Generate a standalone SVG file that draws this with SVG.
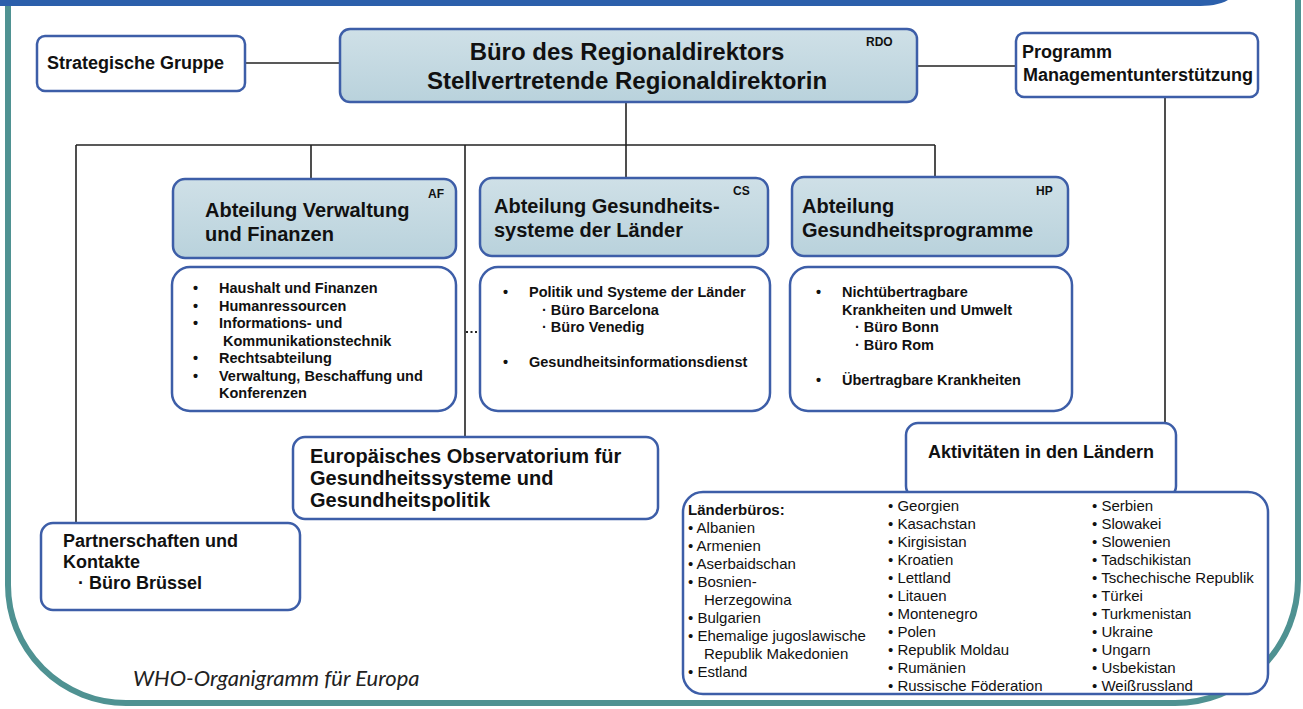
<svg xmlns="http://www.w3.org/2000/svg" width="1303" height="709" viewBox="0 0 1303 709">
<defs>
<linearGradient id="hdr" x1="0" y1="0" x2="0" y2="1">
<stop offset="0" stop-color="#cfe0e7"/>
<stop offset="1" stop-color="#b9d2dc"/>
</linearGradient>
<style>
.box{fill:#fff;stroke:#3d5ea8;stroke-width:2.5}
.hdr{fill:url(#hdr);stroke:#3d5ea8;stroke-width:2.5}
.b{font-family:"Liberation Sans",Arial,sans-serif;font-weight:bold;fill:#111}
.r{font-family:"Liberation Sans",Arial,sans-serif;fill:#111}
.t18{font-size:18px}
.t20{font-size:20px}
.t14{font-size:14.5px}
.t12{font-size:12px}
.t15{font-size:15px}
.ln{stroke:#222;stroke-width:1.6;fill:none}
</style>
</defs>
<rect x="0" y="0" width="1303" height="709" fill="#fff"/>
<g id="frame">
<path d="M0,0 H1228 C1220,5 1208,6 1196,6 H0 Z" fill="#2b5fab"/>
<path d="M8,6 V585 A118,118 0 0 0 126,703 H1175 A123,123 0 0 0 1298,580 V0" fill="none" stroke="#4f9292" stroke-width="6"/>
</g>
<g id="connectors">
<line class="ln" x1="245" y1="63" x2="340" y2="63"/>
<line class="ln" x1="917" y1="66" x2="1016" y2="66"/>
<line class="ln" x1="626" y1="102" x2="626" y2="178"/>
<line class="ln" x1="76" y1="145" x2="935" y2="145"/>
<line class="ln" x1="311" y1="145" x2="311" y2="179"/>
<line class="ln" x1="465" y1="145" x2="465" y2="437"/>
<line class="ln" x1="935" y1="145" x2="935" y2="177"/>
<line class="ln" x1="76" y1="145" x2="76" y2="523"/>
<line class="ln" x1="1165" y1="97" x2="1165" y2="423"/>
<line x1="466" y1="332" x2="480" y2="332" stroke="#222" stroke-width="2" stroke-dasharray="2,2.5"/>
</g>
<g id="strategische">
<rect class="box" x="37" y="36" width="208" height="55" rx="8"/>
<text class="b t18" x="47" y="69">Strategische Gruppe</text>
</g>
<g id="rdo">
<rect class="hdr" x="340" y="29" width="577" height="73" rx="10"/>
<text class="b" font-size="24" x="627" y="60" text-anchor="middle">Büro des Regionaldirektors</text>
<text class="b" font-size="24" x="627" y="89" text-anchor="middle">Stellvertretende Regionaldirektorin</text>
<text class="b t12" x="866" y="46">RDO</text>
</g>
<g id="programm">
<rect class="box" x="1016" y="33" width="242" height="64" rx="8"/>
<text class="b t18" x="1022" y="58">Programm</text>
<text class="b t18" x="1023" y="81">Managementunterstützung</text>
</g>
<g id="af">
<rect class="hdr" x="173" y="179" width="283" height="79" rx="12"/>
<text class="b t20" x="205" y="217">Abteilung Verwaltung</text>
<text class="b t20" x="205" y="241">und Finanzen</text>
<text class="b t12" x="428" y="198">AF</text>
</g>
<g id="af-list">
<rect class="box" x="172" y="267" width="284" height="144" rx="18"/>
<text class="b t14">
<tspan x="193" y="293">•</tspan><tspan x="219" y="293">Haushalt und Finanzen</tspan>
<tspan x="193" y="310.5">•</tspan><tspan x="219" y="310.5">Humanressourcen</tspan>
<tspan x="193" y="328">•</tspan><tspan x="219" y="328">Informations- und</tspan>
<tspan x="223" y="345.5">Kommunikationstechnik</tspan>
<tspan x="193" y="363">•</tspan><tspan x="219" y="363">Rechtsabteilung</tspan>
<tspan x="193" y="380.5">•</tspan><tspan x="219" y="380.5">Verwaltung, Beschaffung und</tspan>
<tspan x="219" y="398">Konferenzen</tspan>
</text>
</g>
<g id="cs">
<rect class="hdr" x="480" y="178" width="288" height="78" rx="12"/>
<text class="b t20" x="494" y="213">Abteilung Gesundheits-</text>
<text class="b t20" x="494" y="237">systeme der Länder</text>
<text class="b t12" x="733" y="195">CS</text>
</g>
<g id="cs-list">
<rect class="box" x="480" y="267" width="290" height="144" rx="18"/>
<text class="b t14">
<tspan x="503" y="297">•</tspan><tspan x="529" y="297">Politik und Systeme der Länder</tspan>
<tspan x="542" y="314.5">· Büro Barcelona</tspan>
<tspan x="542" y="332">· Büro Venedig</tspan>
<tspan x="503" y="367">•</tspan><tspan x="529" y="367">Gesundheitsinformationsdienst</tspan>
</text>
</g>
<g id="hp">
<rect class="hdr" x="792" y="177" width="276" height="79" rx="12"/>
<text class="b t20" x="802" y="213">Abteilung</text>
<text class="b t20" x="802" y="237">Gesundheitsprogramme</text>
<text class="b t12" x="1036" y="195">HP</text>
</g>
<g id="hp-list">
<rect class="box" x="790" y="267" width="282" height="144" rx="18"/>
<text class="b t14">
<tspan x="816" y="297">•</tspan><tspan x="842" y="297">Nichtübertragbare</tspan>
<tspan x="842" y="315">Krankheiten und Umwelt</tspan>
<tspan x="855" y="332">· Büro Bonn</tspan>
<tspan x="855" y="350">· Büro Rom</tspan>
<tspan x="816" y="385">•</tspan><tspan x="842" y="385">Übertragbare Krankheiten</tspan>
</text>
</g>
<g id="observatorium">
<rect class="box" x="293" y="437" width="365" height="82" rx="12"/>
<text class="b t20" x="310" y="463">Europäisches Observatorium für</text>
<text class="b t20" x="310" y="485">Gesundheitssysteme und</text>
<text class="b t20" x="310" y="507">Gesundheitspolitik</text>
</g>
<g id="partnerschaften">
<rect class="box" x="41" y="523" width="259" height="87" rx="12"/>
<text class="b t18" x="63" y="547">Partnerschaften und</text>
<text class="b t18" x="63" y="568">Kontakte</text>
<text class="b t18" x="78" y="589">· Büro Brüssel</text>
</g>
<g id="aktivitaeten">
<rect class="box" x="906" y="423" width="270" height="75" rx="12"/>
<text class="b t18" x="1041" y="458" text-anchor="middle">Aktivitäten in den Ländern</text>
</g>
<g id="laenderbueros">
<rect class="box" x="683" y="492" width="585" height="202" rx="20"/>
<text class="r t15">
<tspan class="b" x="688" y="515">Länderbüros:</tspan>
<tspan x="688" y="533">• Albanien</tspan>
<tspan x="688" y="551">• Armenien</tspan>
<tspan x="688" y="569">• Aserbaidschan</tspan>
<tspan x="688" y="587">• Bosnien-</tspan>
<tspan x="704" y="605">Herzegowina</tspan>
<tspan x="688" y="623">• Bulgarien</tspan>
<tspan x="688" y="641">• Ehemalige jugoslawische</tspan>
<tspan x="704" y="659">Republik  Makedonien</tspan>
<tspan x="688" y="677">• Estland</tspan>
</text>
<text class="r t15">
<tspan x="888" y="511">• Georgien</tspan>
<tspan x="888" y="529">• Kasachstan</tspan>
<tspan x="888" y="547">• Kirgisistan</tspan>
<tspan x="888" y="565">• Kroatien</tspan>
<tspan x="888" y="583">• Lettland</tspan>
<tspan x="888" y="601">• Litauen</tspan>
<tspan x="888" y="619">• Montenegro</tspan>
<tspan x="888" y="637">• Polen</tspan>
<tspan x="888" y="655">• Republik Moldau</tspan>
<tspan x="888" y="673">• Rumänien</tspan>
<tspan x="888" y="691">• Russische Föderation</tspan>
</text>
<text class="r t15">
<tspan x="1092" y="511">• Serbien</tspan>
<tspan x="1092" y="529">• Slowakei</tspan>
<tspan x="1092" y="547">• Slowenien</tspan>
<tspan x="1092" y="565">• Tadschikistan</tspan>
<tspan x="1092" y="583">• Tschechische Republik</tspan>
<tspan x="1092" y="601">• Türkei</tspan>
<tspan x="1092" y="619">• Turkmenistan</tspan>
<tspan x="1092" y="637">• Ukraine</tspan>
<tspan x="1092" y="655">• Ungarn</tspan>
<tspan x="1092" y="673">• Usbekistan</tspan>
<tspan x="1092" y="691">• Weißrussland</tspan>
</text>
</g>
<text x="133" y="686" font-family="Lato,'Open Sans',sans-serif" font-style="italic" font-size="22" fill="#222">WHO-Organigramm für Europa</text>
</svg>
